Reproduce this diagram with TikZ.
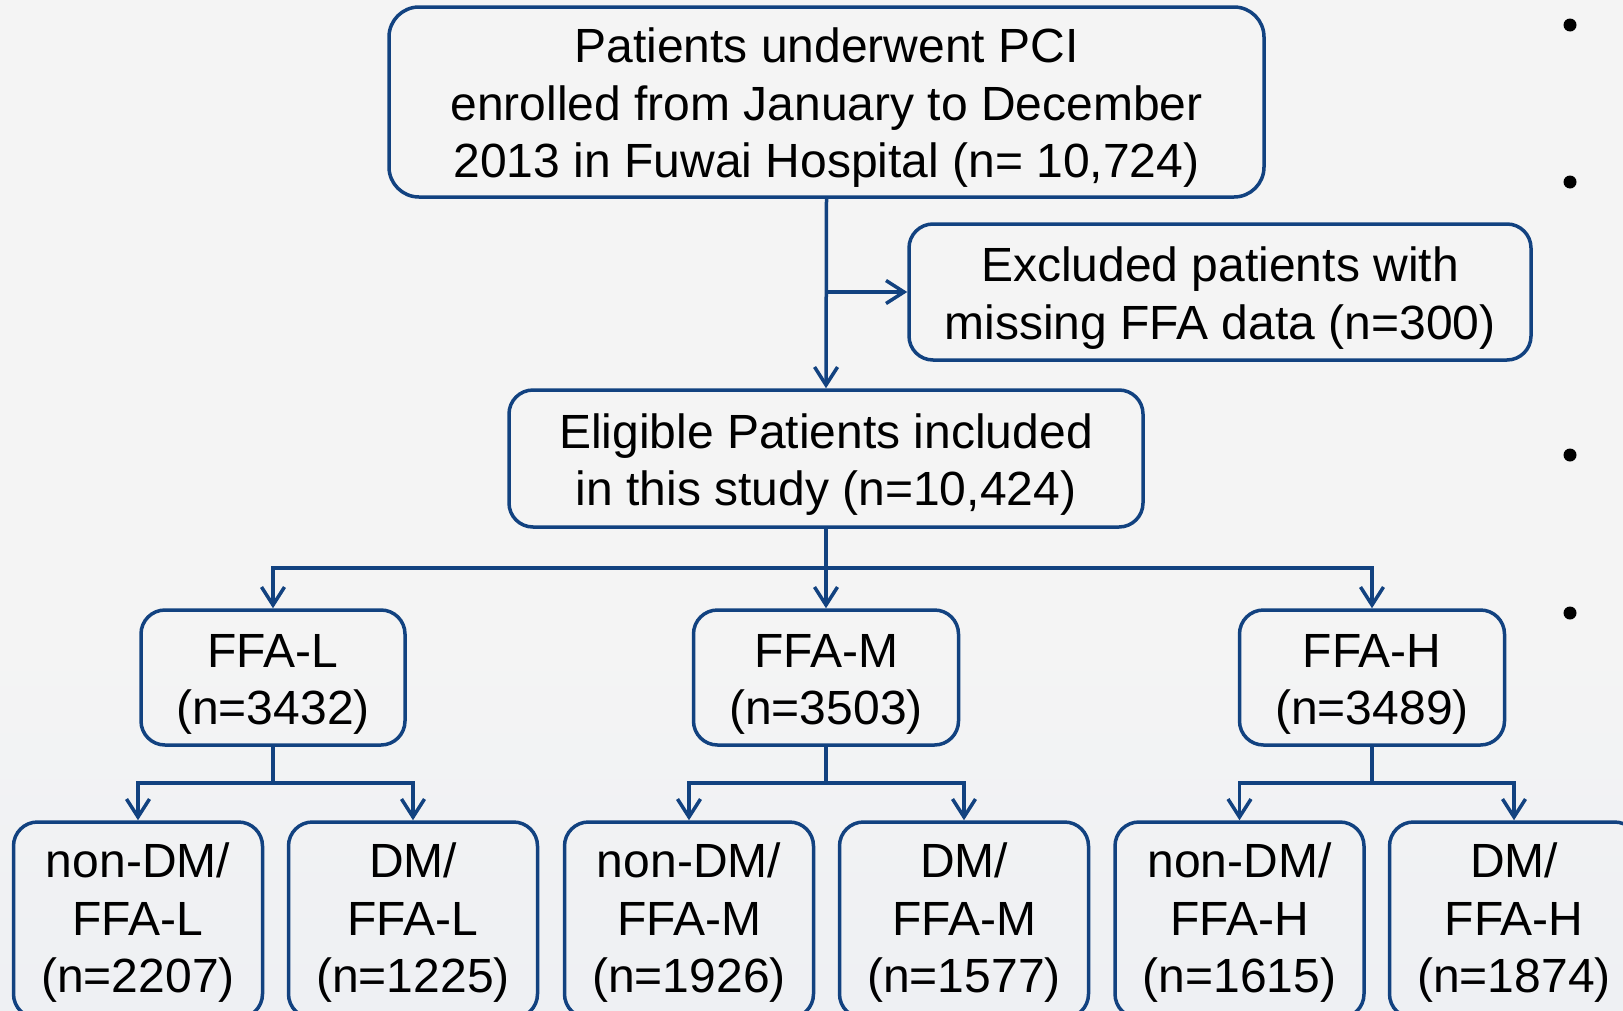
\documentclass[tikz,border=0pt]{standalone}
\usepackage{fontspec}
\setmainfont{Liberation Sans}
\usetikzlibrary{arrows.meta}
\definecolor{navy}{RGB}{18,66,128}
\definecolor{bgtop}{RGB}{244,244,244}
\definecolor{bgbot}{RGB}{238,240,243}
\tikzset{
  box/.style={draw=navy, line width=3.5pt, rounded corners=24pt, inner sep=0pt},
  lowbox/.style={box, minimum width=249pt, minimum height=196pt},
  txt/.style={align=center, inner sep=0pt, font=\fontsize{48}{57.5}\selectfont, text=black},
  conn/.style={draw=navy, line width=3.5pt},
  arr/.style={conn, -{Straight Barb[length=18pt,width=23pt]}},
  bulletdot/.style={circle, fill=black, inner sep=0pt, minimum size=13pt}
}
\begin{document}
\begin{tikzpicture}[x=1pt,y=-1pt]
\useasboundingbox (0,0) rectangle (1623,1010);
\fill[bgtop] (0,0) rectangle (1623,1010);
\shade[top color=bgtop, bottom color=bgbot] (0,640) rectangle (1623,1010);
\clip (0,0) rectangle (1623,1010);

% boxes
\node[box, rounded corners=30pt, minimum width=875pt, minimum height=190pt] (top) at (826.5,102) {};
\node[box, minimum width=622pt, minimum height=136pt] (excl) at (1220,292) {};
\node[box, minimum width=634pt, minimum height=137pt] (elig) at (826,458.5) {};
\node[box, minimum width=264pt, minimum height=135pt] (ffaL) at (273,677.5) {};
\node[box, minimum width=265pt, minimum height=135pt] (ffaM) at (826,677.5) {};
\node[box, minimum width=265pt, minimum height=135pt] (ffaH) at (1372,677.5) {};
\node[lowbox] (nL) at (138,920) {};
\node[lowbox] (dL) at (413,920) {};
\node[lowbox] (nM) at (689,920) {};
\node[lowbox] (dM) at (964,920) {};
\node[lowbox] (nH) at (1239.5,920) {};
\node[lowbox] (dH) at (1514,920) {};

% texts
\node[txt] (topT) at ([yshift=-6pt]top.center)
  {Patients underwent PCI\\enrolled from January to December\\2013 in Fuwai Hospital (n= 10,724)};
\node[txt] (exclT) at ([yshift=-6pt]excl.center) {Excluded patients with\\missing FFA data (n=300)};
\node[txt] (eligT) at ([yshift=-6pt]elig.center) {Eligible Patients included\\in this study (n=10,424)};
\node[txt] (ffaLT) at ([yshift=-7pt]ffaL.center) {FFA-L\\(n=3432)};
\node[txt] (ffaMT) at ([yshift=-7pt]ffaM.center) {FFA-M\\(n=3503)};
\node[txt] (ffaHT) at ([yshift=-7pt]ffaH.center) {FFA-H\\(n=3489)};
\node[txt] (nLT) at ([yshift=-3pt]nL.center) {non-DM/\\FFA-L\\(n=2207)};
\node[txt] (dLT) at ([yshift=-3pt]dL.center) {DM/\\FFA-L\\(n=1225)};
\node[txt] (nMT) at ([yshift=-3pt]nM.center) {non-DM/\\FFA-M\\(n=1926)};
\node[txt] (dMT) at ([yshift=-3pt]dM.center) {DM/\\FFA-M\\(n=1577)};
\node[txt] (nHT) at ([yshift=-3pt]nH.center) {non-DM/\\FFA-H\\(n=1615)};
\node[txt] (dHT) at ([yshift=-3pt]dH.center) {DM/\\FFA-H\\(n=1874)};

% connectors
\draw[arr] (top.south) -- (elig.north);
\coordinate (j1) at (top.south |- excl.west);
\draw[arr] (j1) -- (excl.west);

\coordinate (bus) at (826,568);
\draw[conn] (elig.south) -- (bus);
\draw[arr] (bus) -| (ffaL.north);
\draw[arr] (bus) -| (ffaH.north);
\draw[arr] (bus) -- (ffaM.north);

\coordinate (busL) at (273,783);
\draw[conn] (ffaL.south) -- (busL);
\draw[arr] (busL) -| (nL.north);
\draw[arr] (busL) -| (dL.north);

\coordinate (busM) at (826,783);
\draw[conn] (ffaM.south) -- (busM);
\draw[arr] (busM) -| (nM.north);
\draw[arr] (busM) -| (dM.north);

\coordinate (busH) at (1372,783);
\draw[conn] (ffaH.south) -- (busH);
\draw[arr] (busH) -| (nH.north);
\draw[arr] (busH) -| (dH.north);

% bullets
\node[bulletdot] (b1) at (1570,25) {};
\node[bulletdot] (b2) at (1570,182) {};
\node[bulletdot] (b3) at (1570,455) {};
\node[bulletdot] (b4) at (1570,613) {};
\end{tikzpicture}
\end{document}
